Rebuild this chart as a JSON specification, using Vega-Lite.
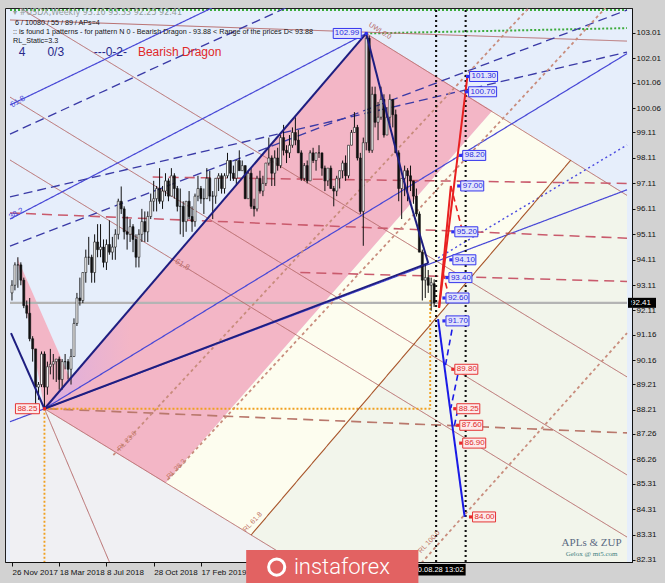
{
"$schema":"https://vega.github.io/schema/vega-lite/v6.json",
"width":627,"height":554,
"autosize":{"type":"none"},
"padding":{"left":5,"top":8,"right":33,"bottom":21},
"background":"#d2d2d2",
"config":{"view":{"fill":"#e6eefb","stroke":"#202020","strokeWidth":1},"font":"Liberation Sans"},
"datasets":{
"bars":[
{"w":0,"o":92.8,"h":93.3,"l":92.5,"c":93.1},{"w":1,"o":93.1,"h":94.0,"l":92.9,"c":93.9},{"w":2,"o":93.9,"h":94.2,"l":93.0,"c":93.9},{"w":3,"o":93.9,"h":94.0,"l":93.1,"c":93.3},{"w":4,"o":93.3,"h":93.4,"l":92.2,"c":92.3},{"w":5,"o":92.3,"h":92.5,"l":91.8,"c":92.0},{"w":6,"o":92.0,"h":92.6,"l":90.9,"c":91.0},{"w":7,"o":91.0,"h":91.1,"l":90.1,"c":90.6},{"w":8,"o":90.6,"h":90.6,"l":88.4,"c":89.1},{"w":9,"o":89.1,"h":89.3,"l":88.6,"c":89.2},
{"w":10,"o":89.2,"h":90.5,"l":89.1,"c":90.4},{"w":11,"o":90.4,"h":90.5,"l":88.25,"c":89.1},{"w":12,"o":89.1,"h":90.1,"l":88.8,"c":89.9},{"w":13,"o":89.9,"h":90.6,"l":89.6,"c":90.0},{"w":14,"o":90.0,"h":90.4,"l":89.4,"c":90.1},{"w":15,"o":90.1,"h":90.2,"l":89.3,"c":90.2},{"w":16,"o":90.2,"h":90.3,"l":89.0,"c":89.4},{"w":17,"o":89.4,"h":90.2,"l":89.0,"c":90.1},{"w":18,"o":90.1,"h":90.4,"l":89.8,"c":90.1},{"w":19,"o":90.1,"h":90.2,"l":89.4,"c":89.8},
{"w":20,"o":89.8,"h":90.6,"l":89.2,"c":90.3},{"w":21,"o":90.3,"h":91.8,"l":90.3,"c":91.6},{"w":22,"o":91.6,"h":92.8,"l":91.5,"c":92.6},{"w":23,"o":92.6,"h":93.4,"l":92.3,"c":92.5},{"w":24,"o":92.5,"h":93.6,"l":92.4,"c":93.6},{"w":25,"o":93.6,"h":94.5,"l":93.2,"c":94.2},{"w":26,"o":94.2,"h":95.0,"l":93.9,"c":94.2},{"w":27,"o":94.2,"h":94.3,"l":93.2,"c":93.6},{"w":28,"o":93.6,"h":95.1,"l":93.2,"c":94.8},{"w":29,"o":94.8,"h":95.5,"l":94.2,"c":94.5},
{"w":30,"o":94.5,"h":95.5,"l":94.2,"c":94.6},{"w":31,"o":94.6,"h":94.9,"l":93.8,"c":94.0},{"w":32,"o":94.0,"h":94.9,"l":93.7,"c":94.7},{"w":33,"o":94.7,"h":95.65,"l":94.3,"c":94.4},{"w":34,"o":94.4,"h":95.0,"l":94.1,"c":94.6},{"w":35,"o":94.6,"h":95.3,"l":94.1,"c":95.1},{"w":36,"o":95.1,"h":96.5,"l":94.9,"c":96.4},{"w":37,"o":96.4,"h":96.98,"l":95.9,"c":96.1},{"w":38,"o":96.1,"h":96.2,"l":94.9,"c":95.2},{"w":39,"o":95.2,"h":95.8,"l":94.5,"c":95.1},
{"w":40,"o":95.1,"h":95.7,"l":94.8,"c":95.4},{"w":41,"o":95.4,"h":95.5,"l":94.4,"c":94.9},{"w":42,"o":94.9,"h":95.1,"l":93.8,"c":94.2},{"w":43,"o":94.2,"h":95.3,"l":93.8,"c":95.1},{"w":44,"o":95.1,"h":96.1,"l":94.8,"c":95.6},{"w":45,"o":95.6,"h":96.0,"l":94.8,"c":95.2},{"w":46,"o":95.2,"h":96.0,"l":94.8,"c":95.8},{"w":47,"o":95.8,"h":96.7,"l":95.7,"c":96.4},{"w":48,"o":96.4,"h":97.2,"l":96.0,"c":96.5},{"w":49,"o":96.5,"h":97.0,"l":96.0,"c":96.9},
{"w":50,"o":96.9,"h":97.7,"l":96.3,"c":96.4},{"w":51,"o":96.4,"h":97.0,"l":96.1,"c":96.8},{"w":52,"o":96.8,"h":97.5,"l":96.6,"c":97.2},{"w":53,"o":97.2,"h":97.3,"l":96.4,"c":96.6},{"w":54,"o":96.6,"h":97.7,"l":96.6,"c":97.4},{"w":55,"o":97.4,"h":97.5,"l":96.5,"c":96.9},{"w":56,"o":96.9,"h":97.0,"l":96.0,"c":96.2},{"w":57,"o":96.2,"h":96.9,"l":95.1,"c":96.2},{"w":58,"o":96.2,"h":96.4,"l":95.0,"c":95.6},{"w":59,"o":95.6,"h":96.4,"l":95.2,"c":96.4},
{"w":60,"o":96.4,"h":96.8,"l":95.7,"c":95.8},{"w":61,"o":95.8,"h":96.2,"l":95.2,"c":95.6},{"w":62,"o":95.6,"h":96.7,"l":95.4,"c":96.6},{"w":63,"o":96.6,"h":97.4,"l":96.4,"c":96.9},{"w":64,"o":96.9,"h":97.0,"l":96.3,"c":96.5},{"w":65,"o":96.5,"h":96.9,"l":95.9,"c":96.5},{"w":66,"o":96.5,"h":97.7,"l":96.5,"c":97.3},{"w":67,"o":97.3,"h":97.6,"l":96.4,"c":96.6},{"w":68,"o":96.6,"h":96.8,"l":95.7,"c":96.6},{"w":69,"o":96.6,"h":97.3,"l":96.3,"c":97.3},
{"w":70,"o":97.3,"h":97.5,"l":96.8,"c":97.4},{"w":71,"o":97.4,"h":97.5,"l":96.7,"c":96.9},{"w":72,"o":96.9,"h":97.5,"l":96.7,"c":97.4},{"w":73,"o":97.4,"h":98.3,"l":97.3,"c":98.0},{"w":74,"o":98.0,"h":98.0,"l":97.2,"c":97.5},{"w":75,"o":97.5,"h":97.8,"l":97.2,"c":97.3},{"w":76,"o":97.3,"h":98.0,"l":97.0,"c":98.0},{"w":77,"o":98.0,"h":98.4,"l":97.6,"c":97.6},{"w":78,"o":97.6,"h":98.0,"l":97.6,"c":97.8},{"w":79,"o":97.8,"h":97.8,"l":96.5,"c":96.5},
{"w":80,"o":96.5,"h":97.6,"l":96.5,"c":97.5},{"w":81,"o":97.5,"h":97.7,"l":96.1,"c":96.2},{"w":82,"o":96.2,"h":96.5,"l":95.8,"c":96.1},{"w":83,"o":96.1,"h":97.4,"l":96.0,"c":97.3},{"w":84,"o":97.3,"h":97.6,"l":96.7,"c":96.8},{"w":85,"o":96.8,"h":97.4,"l":96.6,"c":97.1},{"w":86,"o":97.1,"h":97.9,"l":97.0,"c":97.9},{"w":87,"o":97.9,"h":98.9,"l":97.8,"c":98.1},{"w":88,"o":98.1,"h":98.2,"l":97.0,"c":97.5},{"w":89,"o":97.5,"h":98.4,"l":97.0,"c":98.1},
{"w":90,"o":98.1,"h":98.5,"l":97.6,"c":97.8},{"w":91,"o":97.8,"h":99.0,"l":97.7,"c":98.9},{"w":92,"o":98.9,"h":99.4,"l":98.2,"c":98.4},{"w":93,"o":98.4,"h":98.6,"l":97.9,"c":98.3},{"w":94,"o":98.3,"h":99.0,"l":98.1,"c":98.6},{"w":95,"o":98.6,"h":99.3,"l":98.5,"c":99.1},{"w":96,"o":99.1,"h":99.7,"l":98.6,"c":98.8},{"w":97,"o":98.8,"h":99.2,"l":98.3,"c":98.3},{"w":98,"o":98.3,"h":98.4,"l":97.2,"c":97.3},{"w":99,"o":97.3,"h":97.9,"l":97.2,"c":97.8},
{"w":100,"o":97.8,"h":98.0,"l":97.1,"c":97.2},{"w":101,"o":97.2,"h":98.4,"l":97.2,"c":98.3},{"w":102,"o":98.3,"h":98.5,"l":97.9,"c":98.0},{"w":103,"o":98.0,"h":98.3,"l":97.6,"c":98.3},{"w":104,"o":98.3,"h":98.6,"l":98.1,"c":98.3},{"w":105,"o":98.3,"h":98.3,"l":97.4,"c":97.7},{"w":106,"o":97.7,"h":97.8,"l":96.8,"c":97.2},{"w":107,"o":97.2,"h":97.7,"l":97.0,"c":97.7},{"w":108,"o":97.7,"h":97.8,"l":96.9,"c":96.9},{"w":109,"o":96.9,"h":97.0,"l":96.2,"c":96.8},
{"w":110,"o":96.8,"h":97.4,"l":96.6,"c":97.3},{"w":111,"o":97.3,"h":97.6,"l":96.9,"c":97.6},{"w":112,"o":97.6,"h":98.0,"l":97.3,"c":97.9},{"w":113,"o":97.9,"h":98.2,"l":97.2,"c":97.4},{"w":114,"o":97.4,"h":98.6,"l":97.3,"c":98.6},{"w":115,"o":98.6,"h":99.2,"l":98.6,"c":99.1},{"w":116,"o":99.1,"h":99.9,"l":99.1,"c":99.3},{"w":117,"o":99.3,"h":99.4,"l":98.0,"c":98.1},{"w":118,"o":98.1,"h":98.3,"l":95.9,"c":96.0},{"w":119,"o":96.0,"h":98.9,"l":94.65,"c":98.7},
{"w":120,"o":98.7,"h":102.99,"l":98.4,"c":102.8},{"w":121,"o":102.8,"h":102.9,"l":98.3,"c":98.4},{"w":122,"o":98.4,"h":100.9,"l":98.3,"c":100.6},{"w":123,"o":100.6,"h":100.9,"l":99.3,"c":99.5},{"w":124,"o":99.5,"h":100.3,"l":98.8,"c":99.7},{"w":125,"o":99.7,"h":100.9,"l":99.6,"c":100.4},{"w":126,"o":100.4,"h":100.6,"l":98.9,"c":99.0},{"w":127,"o":99.0,"h":100.1,"l":99.0,"c":99.7},{"w":128,"o":99.7,"h":100.6,"l":99.4,"c":100.4},{"w":129,"o":100.4,"h":100.4,"l":99.3,"c":99.8},
{"w":130,"o":99.8,"h":100.0,"l":98.3,"c":98.3},{"w":131,"o":98.3,"h":98.4,"l":96.4,"c":96.9},{"w":132,"o":96.9,"h":97.3,"l":95.7,"c":97.3},{"w":133,"o":97.3,"h":97.8,"l":96.6,"c":97.6},{"w":134,"o":97.6,"h":97.7,"l":96.4,"c":97.4},{"w":135,"o":97.4,"h":97.8,"l":96.8,"c":97.2},{"w":136,"o":97.2,"h":97.2,"l":96.3,"c":96.6},{"w":137,"o":96.6,"h":96.9,"l":95.8,"c":95.9},{"w":138,"o":95.9,"h":96.0,"l":94.4,"c":94.4},{"w":139,"o":94.4,"h":94.5,"l":92.5,"c":93.3},
{"w":140,"o":93.3,"h":93.9,"l":92.6,"c":93.4},{"w":141,"o":93.4,"h":93.7,"l":92.8,"c":93.1},{"w":142,"o":93.1,"h":93.4,"l":92.1,"c":93.2},{"w":143,"o":93.16,"h":93.33,"l":92.25,"c":92.41}
],
"zones":[
{"zone":"gray","w":-0.67,"p":88.25,"p2":82.23},{"zone":"gray","w":11,"p":88.25,"p2":82.23},{"zone":"gray","w":96,"p":82.23,"p2":82.23},
{"zone":"yellow","w":52,"p":85.33,"p2":85.33},{"zone":"yellow","w":81,"p":89.16,"p2":83.29},{"zone":"yellow","w":162.67,"p":99.95,"p2":94.39},{"zone":"yellow","w":189.33,"p":98.02,"p2":98.02},
{"zone":"green","w":81,"p":83.29,"p2":83.29},{"zone":"green","w":96,"p":85.33,"p2":82.23},{"zone":"green","w":189.33,"p":98.02,"p2":82.23},{"zone":"green","w":208.33,"p":96.63,"p2":82.23},
{"zone":"pink","w":11,"p":88.25,"p2":88.25},{"zone":"pink","w":52,"p":93.83,"p2":85.33},{"zone":"pink","w":120,"p":102.99,"p2":94.31},{"zone":"pink","w":162.67,"p":99.95,"p2":99.95},
{"zone":"pink2","w":1.67,"p":94.21,"p2":94.21},{"zone":"pink2","w":11,"p":91.74,"p2":88.25},{"zone":"pink2","w":21.67,"p":88.91,"p2":88.91}
],
"tint":[
{"zone":"lav","w":11,"p":88.25,"p2":88.25},{"zone":"lav","w":40,"p":92.17,"p2":90.3}
],
"bg":[
{"kind":"price","w":-0.67,"p":92.41,"w2":208.33,"p2":92.41},
{"kind":"greendot","w":-0.67,"p":103.91,"w2":208.33,"p2":103.91},
{"kind":"greendot","w":120,"p":102.99,"w2":208.33,"p2":103.2},
{"kind":"brown","w":-0.67,"p":103.52,"w2":208.33,"p2":102.69},
{"kind":"brown","w":120,"p":102.99,"w2":208.33,"p2":96.63},
{"kind":"brown","w":11,"p":88.25,"w2":96,"p2":82.23},
{"kind":"brown","w":11,"p":88.25,"w2":33,"p2":82.23},
{"kind":"brown","w":-0.67,"p":98.02,"w2":208.33,"p2":83.21},
{"kind":"brown","w":-0.67,"p":100.49,"w2":208.33,"p2":85.65},
{"kind":"brown","w":-0.67,"p":104.23,"w2":208.33,"p2":89.5},
{"kind":"blue","w":-0.67,"p":87.74,"w2":208.33,"p2":96.85},
{"kind":"blue","w":11,"p":88.25,"w2":208.33,"p2":102.2},
{"kind":"blue","w":-0.67,"p":100.18,"w2":67.67,"p2":103.99},
{"kind":"blue","w":-0.67,"p":95.7,"w2":120,"p2":102.99},
{"kind":"navydash","w":-0.67,"p":99.04,"w2":92.67,"p2":103.99},
{"kind":"navydash","w":-0.67,"p":94.64,"w2":208.33,"p2":103.91},
{"kind":"navydash","w":-0.67,"p":96.57,"w2":208.33,"p2":102.26},
{"kind":"bluedot","w":144.33,"p":94.17,"w2":208.33,"p2":98.61},
{"kind":"reddash","w":-0.67,"p":95.94,"w2":208.33,"p2":94.95},
{"kind":"reddash","w":47.67,"p":97.35,"w2":208.33,"p2":97.1},
{"kind":"reddash","w":97.67,"p":93.6,"w2":208.33,"p2":93.25},
{"kind":"browndash","w":12,"p":88.25,"w2":208.33,"p2":87.3},
{"kind":"rldot","w":34.33,"p":86.43,"w2":175,"p2":103.99},
{"kind":"rldot","w":52.67,"p":85.45,"w2":201,"p2":103.99},
{"kind":"rldot","w":138.67,"p":82.19,"w2":208.33,"p2":91.22},
{"kind":"orangedot","w":11,"p":88.25,"w2":141.67,"p2":88.25},
{"kind":"orangedot","w":141.67,"p":92.52,"w2":141.67,"p2":88.25},
{"kind":"orangedot","w":11,"p":88.25,"w2":11,"p2":82.23},
{"kind":"brownthick","w":81,"p":83.29,"w2":189.33,"p2":98.02},
{"kind":"blackdot","w":143.67,"p":82.23,"w2":143.67,"p2":103.99},
{"kind":"blackdot","w":153.67,"p":82.23,"w2":153.67,"p2":103.99}
],
"fg":[
{"kind":"zup","w":-0.33,"p":91.22,"w2":11,"p2":88.25},
{"kind":"zup","w":11,"p":88.25,"w2":120,"p2":102.99},
{"kind":"zup","w":120,"p":102.99,"w2":132.67,"p2":97.23},
{"kind":"zup","w":132.67,"p":97.23,"w2":141,"p2":93.97},
{"kind":"zup","w":11,"p":88.25,"w2":141,"p2":93.97},
{"kind":"redz","w":144.67,"p":92.21,"w2":154.33,"p2":101.36},
{"kind":"redz","w":144.67,"p":92.21,"w2":148.67,"p2":97.0},
{"kind":"bluez","w":144.33,"p":91.77,"w2":153.33,"p2":84.0}
],
"fgd":[
{"kind":"redz","w":148.67,"p":97.0,"w2":152.67,"p2":95.19},
{"kind":"redz","w":146,"p":93.58,"w2":148.33,"p2":92.52},
{"kind":"bluez","w":149.67,"p":91.74,"w2":146.67,"p2":89.85},
{"kind":"bluez","w":151,"p":89.58,"w2":148.67,"p2":88.28},
{"kind":"bluez","w":151,"p":88.2,"w2":149.67,"p2":87.49}
],
"tags":[
{"w":154.33,"p":101.3,"t":"101.30","col":"blue","side":"r"},
{"w":154,"p":100.7,"t":"100.70","col":"blue","side":"r"},
{"w":152,"p":98.2,"t":"98.20","col":"blue","side":"r"},
{"w":151.33,"p":97.0,"t":"97.00","col":"blue","side":"r"},
{"w":149.33,"p":95.2,"t":"95.20","col":"blue","side":"r"},
{"w":148.67,"p":94.1,"t":"94.10","col":"blue","side":"r"},
{"w":147.33,"p":93.4,"t":"93.40","col":"blue","side":"r"},
{"w":146.33,"p":92.6,"t":"92.60","col":"blue","side":"r"},
{"w":146.33,"p":91.7,"t":"91.70","col":"blue","side":"r"},
{"w":149.33,"p":89.8,"t":"89.80","col":"red","side":"r"},
{"w":150,"p":88.25,"t":"88.25","col":"red","side":"r"},
{"w":151,"p":87.6,"t":"87.60","col":"red","side":"r"},
{"w":152,"p":86.9,"t":"86.90","col":"red","side":"r"},
{"w":155.33,"p":84.0,"t":"84.00","col":"red","side":"r"},
{"w":120,"p":102.99,"t":"102.99","col":"blue","side":"l"},
{"w":11,"p":88.25,"t":"88.25","col":"red","side":"l"}
],
"notes":[
{"w":0.33,"p":103.79,"t":"▾ #USDX,Weekly  93.16 93.33 92.25 92.41","k":"hdr"},
{"w":1.0,"p":103.4,"t":"6 / 10080 / 55 / 89 / APs=4","k":"info"},
{"w":0.33,"p":103.05,"t":":: is found 1 patterns  -  for pattern N 0 - Bearish Dragon - 93.88 < Range of the prices D< 93.88","k":"info"},
{"w":0.33,"p":102.69,"t":"RL_Static=3.3","k":"info"},
{"w":2.33,"p":102.28,"t":"4","k":"big"},
{"w":12,"p":102.28,"t":"0/3","k":"big"},
{"w":27.67,"p":102.28,"t":"---0-2-","k":"big"},
{"w":42.67,"p":102.28,"t":"Bearish Dragon","k":"dragon"},
{"w":196.33,"p":82.98,"t":"APLs & ZUP","k":"sig"},
{"w":196.33,"p":82.55,"t":"Gelox @ mt5.com","k":"sig2"},
{"w":2,"p":100.3,"t":"61.8","k":"fibb"},
{"w":1.5,"p":95.9,"t":"38.2","k":"fibb"},
{"w":57.67,"p":93.9,"t":"61.8","k":"fibr"},
{"w":39,"p":86.98,"t":"RL 23.6","k":"rl"},
{"w":55.67,"p":85.88,"t":"RL 38.2","k":"rl"},
{"w":81.5,"p":83.8,"t":"RL 61.8","k":"rl"},
{"w":141.33,"p":83.02,"t":"RL 100.0","k":"rl"},
{"w":124.67,"p":103.09,"t":"UWL0.0","k":"uwl"}
]
},
"encoding":{
"x":{"field":"w","type":"quantitative","scale":{"domain":[-0.67,208.33],"nice":false,"zero":false},
"axis":{"title":null,"values":[0,16,32,48,64],"labelExpr":"['26 Nov 2017','18 Mar 2018','8 Jul 2018','28 Oct 2018','17 Feb 2019'][datum.value/16]","labelAlign":"left","labelPadding":2,"labelFontSize":8,"labelColor":"#111","tickSize":4,"tickColor":"#111","domainColor":"#111","grid":false,"labelFlush":false,"labelOverlap":false}},
"y":{"field":"p","type":"quantitative","scale":{"domain":[82.23,103.99],"nice":false,"zero":false},
"axis":{"orient":"right","title":null,"values":[82.31,83.31,84.31,85.31,86.26,87.26,88.21,89.21,90.16,91.16,92.11,93.11,94.11,95.11,96.11,97.11,98.11,99.11,100.06,101.06,102.01,103.01],"format":".2f","labelFontSize":8,"labelColor":"#111","tickSize":3,"tickColor":"#111","domainColor":"#111","labelPadding":1,"grid":false,"zindex":1,"labelFlush":false,"labelOverlap":false}}
},
"resolve":{"scale":{"color":"independent","fill":"independent","stroke":"independent","strokeDash":"independent","strokeWidth":"independent"}},
"layer":[
{"data":{"name":"zones"},"mark":{"type":"area","clip":true,"interpolate":"linear"},
 "encoding":{"y2":{"field":"p2"},"color":{"field":"zone","type":"nominal","legend":null,"scale":{"domain":["gray","yellow","green","pink","pink2"],"range":["#f0f0f3","#fdfdef","#f2f5eb","#f3b6c6","#f3b6c6"]}},"detail":{"field":"zone"}}},
{"data":{"name":"tint"},"mark":{"type":"area","clip":true,"color":{"gradient":"linear","x1":0,"x2":1,"y1":0,"y2":0,"stops":[{"offset":0,"color":"#dcaee0"},{"offset":1,"color":"#f3b6c6"}]}},
 "encoding":{"y2":{"field":"p2"}}},
{"data":{"name":"bg"},"mark":{"type":"rule","clip":true},
 "encoding":{"x2":{"field":"w2"},"y2":{"field":"p2"},
 "color":{"field":"kind","type":"nominal","legend":null,"scale":{"domain":["brown","brownthick","blue","navydash","bluedot","reddash","browndash","rldot","orangedot","greendot","blackdot","price"],"range":["#b76b6b","#a8552a","#4848d6","#3a3aa6","#4b4be0","#c95a6c","#b9786c","#c88c7c","#f0a020","#3cab3c","#111111","#b4b4b4"]}},
 "strokeDash":{"field":"kind","type":"nominal","legend":null,"scale":{"domain":["brown","brownthick","blue","navydash","bluedot","reddash","browndash","rldot","orangedot","greendot","blackdot","price"],"range":[[1,0],[1,0],[1,0],[9,5],[2,3],[10,6],[10,6],[3,3],[2,2],[2,2],[2,3],[1,0]]}},
 "strokeWidth":{"field":"kind","type":"nominal","legend":null,"scale":{"domain":["brown","brownthick","blue","navydash","bluedot","reddash","browndash","rldot","orangedot","greendot","blackdot","price"],"range":[1,2.2,1,1,1,1.5,1.5,1,1,1,1,1]}}}},
{"data":{"name":"bars"},"mark":{"type":"rule","color":"#111","strokeWidth":1},
 "encoding":{"y":{"field":"l","type":"quantitative"},"y2":{"field":"h"}}},
{"data":{"name":"bars"},"mark":{"type":"bar","width":2,"stroke":"#111","strokeWidth":0.6},
 "encoding":{"y":{"field":"o","type":"quantitative"},"y2":{"field":"c"},
 "fill":{"condition":{"test":"datum.c >= datum.o","value":"#ffffff"},"value":"#111111"}}},
{"data":{"name":"fg"},"mark":{"type":"rule","clip":true,"strokeWidth":2},
 "encoding":{"x2":{"field":"w2"},"y2":{"field":"p2"},
 "stroke":{"field":"kind","type":"nominal","legend":null,"scale":{"domain":["zup","redz","bluez"],"range":["#1e1e80","#e82020","#1a1ae6"]}}}},
{"data":{"name":"fgd"},"mark":{"type":"rule","clip":true,"strokeWidth":1.6,"strokeDash":[6,4]},
 "encoding":{"x2":{"field":"w2"},"y2":{"field":"p2"},
 "stroke":{"field":"kind","type":"nominal","legend":null,"scale":{"domain":["zup","redz","bluez"],"range":["#1e1e80","#e82020","#1a1ae6"]}}}},
{"data":{"name":"tags"},"transform":[{"filter":"datum.side=='r' && length(datum.t)==5"}],
 "mark":{"type":"rect","xOffset":2,"x2Offset":25,"yOffset":-5,"y2Offset":5,"strokeWidth":1},
 "encoding":{"x2":{"field":"w"},"y2":{"field":"p"},
 "fill":{"field":"col","type":"nominal","legend":null,"scale":{"domain":["blue","red"],"range":["#e2e4fb","#fdeaea"]}},
 "stroke":{"field":"col","type":"nominal","legend":null,"scale":{"domain":["blue","red"],"range":["#3535ee","#e53535"]}}}},
{"data":{"name":"tags"},"transform":[{"filter":"datum.side=='r' && length(datum.t)==6"}],
 "mark":{"type":"rect","xOffset":2,"x2Offset":30,"yOffset":-5,"y2Offset":5,"strokeWidth":1},
 "encoding":{"x2":{"field":"w"},"y2":{"field":"p"},
 "fill":{"field":"col","type":"nominal","legend":null,"scale":{"domain":["blue","red"],"range":["#e2e4fb","#fdeaea"]}},
 "stroke":{"field":"col","type":"nominal","legend":null,"scale":{"domain":["blue","red"],"range":["#3535ee","#e53535"]}}}},
{"data":{"name":"tags"},"transform":[{"filter":"datum.side=='l' && length(datum.t)==6"}],
 "mark":{"type":"rect","xOffset":-33,"x2Offset":-5,"yOffset":-5,"y2Offset":5,"strokeWidth":1},
 "encoding":{"x2":{"field":"w"},"y2":{"field":"p"},
 "fill":{"field":"col","type":"nominal","legend":null,"scale":{"domain":["blue","red"],"range":["#e2e4fb","#fdeaea"]}},
 "stroke":{"field":"col","type":"nominal","legend":null,"scale":{"domain":["blue","red"],"range":["#3535ee","#e53535"]}}}},
{"data":{"name":"tags"},"transform":[{"filter":"datum.side=='l' && length(datum.t)==5"}],
 "mark":{"type":"rect","xOffset":-29,"x2Offset":-5,"yOffset":-5,"y2Offset":5,"strokeWidth":1},
 "encoding":{"x2":{"field":"w"},"y2":{"field":"p"},
 "fill":{"field":"col","type":"nominal","legend":null,"scale":{"domain":["blue","red"],"range":["#e2e4fb","#fdeaea"]}},
 "stroke":{"field":"col","type":"nominal","legend":null,"scale":{"domain":["blue","red"],"range":["#3535ee","#e53535"]}}}},
{"data":{"name":"tags"},"mark":{"type":"point","shape":"square","size":10,"filled":true,"opacity":1},
 "encoding":{"color":{"field":"col","type":"nominal","legend":null,"scale":{"domain":["blue","red"],"range":["#2f2ff0","#e82828"]}}}},
{"data":{"name":"tags"},"transform":[{"filter":"datum.side=='r'"}],
 "mark":{"type":"text","align":"left","baseline":"middle","dx":4,"fontSize":8},
 "encoding":{"text":{"field":"t"},"color":{"field":"col","type":"nominal","legend":null,"scale":{"domain":["blue","red"],"range":["#2a2ae0","#e02828"]}}}},
{"data":{"name":"tags"},"transform":[{"filter":"datum.side=='l'"}],
 "mark":{"type":"text","align":"right","baseline":"middle","dx":-7,"fontSize":8},
 "encoding":{"text":{"field":"t"},"color":{"field":"col","type":"nominal","legend":null,"scale":{"domain":["blue","red"],"range":["#2a2ae0","#e02828"]}}}},
{"data":{"name":"notes"},"transform":[{"filter":"datum.k=='hdr'"}],
 "mark":{"type":"text","align":"left","baseline":"middle","fontSize":8,"font":"DejaVu Sans","color":"#96a0a0"},
 "encoding":{"text":{"field":"t"}}},
{"data":{"name":"notes"},"transform":[{"filter":"datum.k=='info'"}],
 "mark":{"type":"text","align":"left","baseline":"middle","fontSize":7.2,"color":"#151515"},
 "encoding":{"text":{"field":"t"}}},
{"data":{"name":"notes"},"transform":[{"filter":"datum.k=='big'"}],
 "mark":{"type":"text","align":"left","baseline":"middle","fontSize":12,"color":"#28288a"},
 "encoding":{"text":{"field":"t"}}},
{"data":{"name":"notes"},"transform":[{"filter":"datum.k=='dragon'"}],
 "mark":{"type":"text","align":"left","baseline":"middle","fontSize":12,"color":"#e02828"},
 "encoding":{"text":{"field":"t"}}},
{"data":{"name":"notes"},"transform":[{"filter":"datum.k=='sig'"}],
 "mark":{"type":"text","align":"center","baseline":"middle","fontSize":11,"font":"Liberation Serif","color":"#5a6a82"},
 "encoding":{"text":{"field":"t"}}},
{"data":{"name":"notes"},"transform":[{"filter":"datum.k=='sig2'"}],
 "mark":{"type":"text","align":"center","baseline":"middle","fontSize":7,"font":"Liberation Serif","color":"#3f7f80"},
 "encoding":{"text":{"field":"t"}}},
{"data":{"name":"notes"},"transform":[{"filter":"datum.k=='fibb'"}],
 "mark":{"type":"text","align":"center","baseline":"middle","fontSize":8,"angle":330,"color":"#4a4ad8"},
 "encoding":{"text":{"field":"t"}}},
{"data":{"name":"notes"},"transform":[{"filter":"datum.k=='fibr'"}],
 "mark":{"type":"text","align":"center","baseline":"middle","fontSize":8,"angle":30,"color":"#b76b6b"},
 "encoding":{"text":{"field":"t"}}},
{"data":{"name":"notes"},"transform":[{"filter":"datum.k=='rl'"}],
 "mark":{"type":"text","align":"center","baseline":"middle","fontSize":7,"angle":313,"color":"#c07262"},
 "encoding":{"text":{"field":"t"}}},
{"data":{"name":"notes"},"transform":[{"filter":"datum.k=='uwl'"}],
 "mark":{"type":"text","align":"center","baseline":"middle","fontSize":7,"angle":33,"color":"#b76b6b"},
 "encoding":{"text":{"field":"t"}}},
{"data":{"values":[{"w":208.33,"p":92.41,"t":"92.41"}]},
 "mark":{"type":"rect","color":"#000000","xOffset":1,"x2Offset":29,"yOffset":-5,"y2Offset":5},
 "encoding":{"x2":{"field":"w"},"y2":{"field":"p"}}},
{"data":{"values":[{"w":208.33,"p":92.41,"t":"92.41"}]},
 "mark":{"type":"text","color":"#ffffff","align":"left","baseline":"middle","dx":4,"fontSize":8},
 "encoding":{"text":{"field":"t"}}},
{"data":{"values":[{"w":136,"w2":153.67,"p":82.15,"p2":81.7,"t":"2020.08.28 13:02"}]},
 "mark":{"type":"rect","color":"#000000"},
 "encoding":{"x2":{"field":"w2"},"y2":{"field":"p2"}}},
{"data":{"values":[{"w":153.67,"p":81.93,"t":"2020.08.28 13:02"}]},
 "mark":{"type":"text","color":"#ffffff","align":"right","baseline":"middle","dx":-2,"fontSize":7.5},
 "encoding":{"text":{"field":"t"}}},
{"data":{"values":[{"w":79.33,"w2":137.67,"p":82.7,"p2":81.4}]},
 "mark":{"type":"rect","color":"#e26262"},
 "encoding":{"x2":{"field":"w2"},"y2":{"field":"p2"}}},
{"data":{"values":[{"w":89.67,"p":82.03}]},
 "mark":{"type":"point","shape":"circle","size":260,"stroke":"#ffffff","strokeWidth":3,"filled":false,"opacity":1},
 "encoding":{}},
{"data":{"values":[{"w":95.5,"p":82.03,"t":"instaforex"}]},
 "mark":{"type":"text","color":"#ffffff","align":"left","baseline":"middle","fontSize":22,"font":"Roboto","fontWeight":300},
 "encoding":{"text":{"field":"t"}}}
]
}
